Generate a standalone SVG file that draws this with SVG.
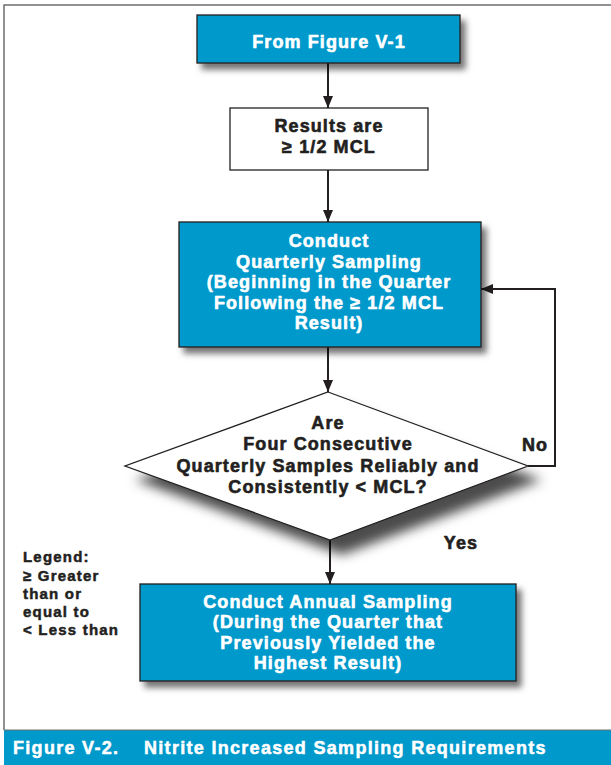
<svg xmlns="http://www.w3.org/2000/svg" width="611" height="765" viewBox="0 0 611 765">
<style>
.box{stroke:#231f20;stroke-width:1.3}
.blue{fill:#0099cc}
.white{fill:#ffffff}
.t{font-family:"Liberation Sans",Arial,sans-serif;font-weight:bold;font-size:18px;text-anchor:middle;letter-spacing:1.1px;stroke-width:0.6px;stroke-linejoin:round}
.tw{fill:#ffffff;stroke:#ffffff}
.tb{fill:#231f20;stroke:#231f20}
.lg{font-family:"Liberation Sans",Arial,sans-serif;font-weight:bold;font-size:15px;fill:#231f20;stroke:#231f20;stroke-width:0.5px;letter-spacing:1.2px}
.cap{font-family:"Liberation Sans",Arial,sans-serif;font-weight:bold;font-size:18px;fill:#ffffff;stroke:#ffffff;stroke-width:0.5px;letter-spacing:1.3px}
.conn{stroke:#231f20;stroke-width:2;fill:none}
</style>
<defs>
<filter id="sh" x="-10%" y="-10%" width="130%" height="140%">
<feDropShadow dx="5" dy="6" stdDeviation="3" flood-color="#000" flood-opacity="0.55"/>
</filter>
<filter id="shd" x="-10%" y="-10%" width="130%" height="150%">
<feDropShadow dx="12" dy="14" stdDeviation="6" flood-color="#000" flood-opacity="0.7"/>
</filter>
<marker id="ah" viewBox="0 0 12 10" refX="12" refY="5" markerWidth="12" markerHeight="10" markerUnits="userSpaceOnUse" orient="auto">
<path d="M0,0 L12,5 L0,10 Z" fill="#231f20"/>
</marker>
</defs>
<rect width="611" height="765" fill="#ffffff"/>
<path d="M4,730 V5 H611" fill="none" stroke="#6d6e71" stroke-width="1.5"/>
<g id="caption">
<rect x="4" y="730" width="607" height="35" fill="#0099cc"/>
<line x1="4" y1="730" x2="611" y2="730" stroke="#6d6e71" stroke-width="1"/>
<text class="cap" x="13" y="754">Figure V-2.</text>
<text class="cap" x="144" y="754">Nitrite Increased Sampling Requirements</text>
</g>
<g id="connectors">
<line class="conn" x1="328" y1="63" x2="328" y2="108" marker-end="url(#ah)"/>
<line class="conn" x1="328" y1="170" x2="328" y2="222" marker-end="url(#ah)"/>
<line class="conn" x1="328" y1="347" x2="328" y2="392" marker-end="url(#ah)"/>
<line class="conn" x1="330" y1="540" x2="330" y2="584" marker-end="url(#ah)"/>
<path class="conn" d="M528,466 H555 V289 H481" marker-end="url(#ah)"/>
<text class="t tb" x="535" y="451">No</text>
<text class="t tb" x="461" y="549">Yes</text>
</g>
<g id="n1">
<rect class="box blue" x="197" y="15" width="263" height="48" filter="url(#sh)"/>
<text class="t tw" x="329" y="48">From Figure V-1</text>
</g>
<g id="n2">
<rect class="box white" x="230" y="108" width="198" height="62"/>
<text class="t tb" x="329" y="132">Results are</text>
<text class="t tb" x="329" y="153">≥ 1/2 MCL</text>
</g>
<g id="n3">
<rect class="box blue" x="179" y="222" width="302" height="125" filter="url(#sh)"/>
<text class="t tw" x="329" y="247">Conduct</text>
<text class="t tw" x="329" y="268">Quarterly Sampling</text>
<text class="t tw" x="329" y="288">(Beginning in the Quarter</text>
<text class="t tw" x="329" y="309">Following the ≥ 1/2 MCL</text>
<text class="t tw" x="329" y="329">Result)</text>
</g>
<g id="n4">
<polygon class="box white" points="328,392 528,466 330,540 125,466" filter="url(#shd)"/>
<text class="t tb" x="328" y="429">Are</text>
<text class="t tb" x="328" y="450">Four Consecutive</text>
<text class="t tb" x="328" y="472">Quarterly Samples Reliably and</text>
<text class="t tb" x="328" y="493">Consistently &lt; MCL?</text>
</g>
<g id="n5">
<rect class="box blue" x="140" y="584" width="376" height="97" filter="url(#sh)"/>
<text class="t tw" x="328" y="608">Conduct Annual Sampling</text>
<text class="t tw" x="328" y="628">(During the Quarter that</text>
<text class="t tw" x="328" y="649">Previously Yielded the</text>
<text class="t tw" x="328" y="669">Highest Result)</text>
</g>
<g id="legend">
<text class="lg" x="23" y="562">Legend:</text>
<text class="lg" x="23" y="581">≥ Greater</text>
<text class="lg" x="23" y="599">than or</text>
<text class="lg" x="23" y="617">equal to</text>
<text class="lg" x="23" y="635">&lt; Less than</text>
</g>
</svg>
